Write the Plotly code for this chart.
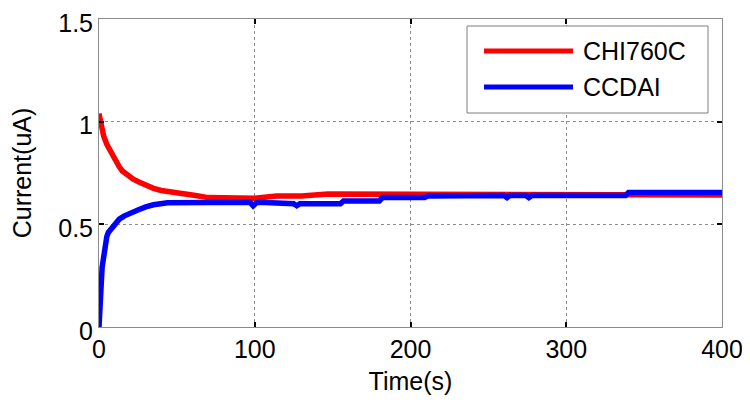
import plotly.graph_objects as go

SERIES_NAMES = ["CHI760C", "CCDAI"]
SERIES_COLORS = ["#ff0000", "#0000ff"]

# CHI760C reading (uA) vs time (s)
chi_t = [0, 1, 3, 5, 7, 9, 11, 13, 15, 18, 22, 26, 30, 35, 40, 47, 55, 62,
         70, 85, 100, 114, 130, 147, 170, 210, 260, 300, 350, 400]
chi_i = [1.04, 0.99, 0.93, 0.89, 0.86, 0.83, 0.80, 0.78, 0.76, 0.74, 0.72,
         0.705, 0.69, 0.675, 0.665, 0.655, 0.645, 0.64, 0.63, 0.627, 0.627,
         0.638, 0.638, 0.648, 0.648, 0.648, 0.645, 0.645, 0.643, 0.643]

# CCDAI reading (uA) vs time (s)
ccd_t = [0, 0.5, 1, 1.5, 2, 3, 4, 5, 6, 8, 10, 13, 16, 20, 25, 30, 35, 44,
         60, 80, 97, 99, 101, 103, 120, 125, 127, 129, 155, 157, 180, 182,
         209, 211, 260, 262, 264, 274, 276, 278, 338, 340, 400]
ccd_i = [0, 0.05, 0.14, 0.22, 0.29, 0.36, 0.41, 0.44, 0.46, 0.48, 0.50,
         0.525, 0.54, 0.555, 0.57, 0.585, 0.595, 0.605, 0.607, 0.607, 0.607,
         0.59, 0.605, 0.607, 0.60, 0.60, 0.59, 0.60, 0.60, 0.614, 0.614,
         0.63, 0.63, 0.638, 0.64, 0.63, 0.64, 0.64, 0.63, 0.64, 0.64, 0.655,
         0.655]

x_ticks = [0, 100, 200, 300, 400]
y_ticks = [0, 0.5, 1, 1.5]
y_ticktext = ["0", "0.5", "1", "1.5"]

FONT = "Arial, Liberation Sans, sans-serif"

# plot area in figure pixels (page adds an 8px body offset)
L, R, T, B = 91, 714, 11, 319

fig = go.Figure()
for name, color, t, i in zip(SERIES_NAMES, SERIES_COLORS, [chi_t, ccd_t], [chi_i, ccd_i]):
    fig.add_trace(go.Scatter(x=t, y=i, name=name, mode="lines",
                             line=dict(color=color, width=5.5), showlegend=False))

axis_common = dict(
    showline=True, linecolor="#8c8c8c", linewidth=1, mirror="ticks",
    ticks="inside", ticklen=5, tickcolor="#000000", tickwidth=2,
    showgrid=True, gridcolor="#8c8c8c", griddash="dot", gridwidth=1,
    zeroline=False, automargin=False, ticklabeloverflow="allow",
    tickfont=dict(size=25, color="#000000", family=FONT),
)

fig.update_layout(
    width=750, height=404,
    margin=dict(l=L, r=750 - R, t=T, b=404 - B),
    paper_bgcolor="white", plot_bgcolor="white",
    font=dict(family=FONT, color="#000000"),
    xaxis=dict(range=[0, 400], tickvals=x_ticks,
               title=dict(text="Time(s)", font=dict(size=25), standoff=10),
               **axis_common),
    yaxis=dict(range=[-0.0005, 1.5005], tickvals=y_ticks, ticktext=y_ticktext,
               ticklabelshift=4,
               title=dict(text="Current(uA)", font=dict(size=25), standoff=21),
               **axis_common),
)


def px_x(v):
    return (v - 8 - L) / (R - L)


def px_y(v):
    return (B - (v - 8)) / (B - T)


# MATLAB-style legend box (window pixel positions)
fig.add_shape(type="rect", xref="paper", yref="paper",
              x0=px_x(467), x1=px_x(708), y0=px_y(113), y1=px_y(26),
              line=dict(color="#7f7f7f", width=1), fillcolor="white")
for k, (name, color) in enumerate(zip(SERIES_NAMES, SERIES_COLORS)):
    yp = px_y(51 + 36 * k)
    fig.add_shape(type="line", xref="paper", yref="paper",
                  x0=px_x(484), x1=px_x(573), y0=yp, y1=yp,
                  line=dict(color=color, width=5))
    fig.add_annotation(xref="paper", yref="paper", x=px_x(581), y=yp,
                       text=name, showarrow=False, xanchor="left", yanchor="middle",
                       font=dict(size=25, color="#000000", family=FONT))

fig.write_html("out.html")
